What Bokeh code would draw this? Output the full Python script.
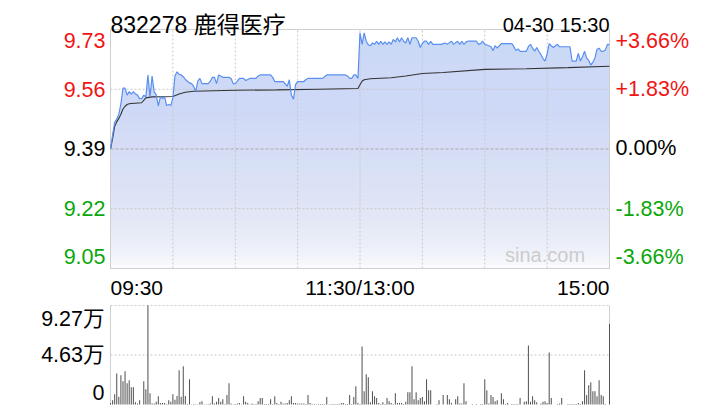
from bokeh.plotting import figure
from bokeh.models import Range1d, Label
from bokeh.embed import file_html
from bokeh.resources import INLINE

# ---------------- data ----------------
title_text = "832278 鹿得医疗"
stamp_text = "04-30 15:30"
prev_close = 9.39

price = [
    9.390, 9.430, 9.467, 9.476, 9.490, 9.520, 9.565, 9.565, 9.545, 9.555,
    9.548, 9.555, 9.548, 9.545, 9.535, 9.535, 9.545, 9.540, 9.603, 9.540,
    9.600, 9.555, 9.545, 9.514, 9.540, 9.535, 9.540, 9.515, 9.518, 9.515,
    9.537, 9.600, 9.612, 9.605, 9.603, 9.598, 9.590, 9.585, 9.580, 9.578,
    9.570, 9.556, 9.585, 9.593, 9.578, 9.578, 9.578, 9.578, 9.585, 9.596,
    9.596, 9.578, 9.603, 9.600, 9.596, 9.596, 9.596, 9.596, 9.593, 9.578,
    9.578, 9.585, 9.593, 9.593, 9.593, 9.587, 9.590, 9.593, 9.593, 9.593,
    9.593, 9.600, 9.603, 9.603, 9.603, 9.603, 9.603, 9.603, 9.596, 9.584,
    9.584, 9.584, 9.584, 9.584, 9.578, 9.570, 9.589, 9.545, 9.533, 9.575,
    9.584, 9.584, 9.584, 9.584, 9.590, 9.593, 9.593, 9.593, 9.593, 9.593,
    9.593, 9.593, 9.593, 9.598, 9.603, 9.603, 9.603, 9.603, 9.603, 9.603,
    9.603, 9.603, 9.603, 9.603, 9.600, 9.593, 9.593, 9.603, 9.603, 9.593,
    9.724, 9.691, 9.724, 9.700, 9.690, 9.687, 9.695, 9.691, 9.700, 9.691,
    9.700, 9.691, 9.698, 9.691, 9.698, 9.691, 9.705, 9.698, 9.710, 9.698,
    9.710, 9.700, 9.695, 9.710, 9.691, 9.710, 9.710, 9.710, 9.700, 9.682,
    9.694, 9.700, 9.700, 9.691, 9.700, 9.691, 9.691, 9.691, 9.691, 9.691,
    9.693, 9.695, 9.691, 9.696, 9.700, 9.691, 9.696, 9.700, 9.691, 9.700,
    9.691, 9.698, 9.700, 9.700, 9.700, 9.700, 9.700, 9.691, 9.693, 9.700,
    9.691, 9.689, 9.687, 9.684, 9.673, 9.687, 9.680, 9.687, 9.693, 9.693,
    9.693, 9.693, 9.693, 9.693, 9.685, 9.673, 9.678, 9.671, 9.671, 9.671,
    9.671, 9.685, 9.691, 9.680, 9.671, 9.682, 9.671, 9.662, 9.650, 9.643,
    9.664, 9.693, 9.687, 9.682, 9.687, 9.691, 9.684, 9.684, 9.684, 9.684,
    9.684, 9.684, 9.643, 9.643, 9.643, 9.665, 9.643, 9.655, 9.671, 9.652,
    9.645, 9.631, 9.640, 9.652, 9.677, 9.680, 9.671, 9.671, 9.675, 9.691,
    9.690,
]

avg_minute = [0, 1, 2, 3, 4, 5, 6, 7, 8, 9, 10, 15, 17, 20, 30, 33, 36, 40, 60, 80,
              100, 119, 120, 121, 122, 125, 135, 142, 150, 160, 180, 200, 220, 240]
avg_price = [9.390, 9.420, 9.455, 9.468, 9.478, 9.490, 9.505, 9.513, 9.518, 9.520,
             9.521, 9.523, 9.537, 9.540, 9.541, 9.548, 9.553, 9.556, 9.559, 9.560,
             9.562, 9.564, 9.575, 9.585, 9.589, 9.592, 9.595, 9.600, 9.607, 9.610,
             9.619, 9.621, 9.624, 9.628]

volume = [
    1500, 4000, 9600, 29000, 7200, 27400, 21800, 31100, 19900, 22700,
    16200, 16200, 2200, 1000, 4000, 0, 21800, 14300, 92700, 10600,
    1000, 1000, 2600, 7800, 1500, 1500, 1500, 500, 4000, 2600,
    9600, 4400, 8000, 32000, 7200, 35800, 8000, 500, 23600, 300,
    500, 300, 300, 2000, 3000, 300, 300, 500, 1000, 7800,
    1000, 2500, 6000, 2500, 5000, 500, 9000, 19900, 1000, 300,
    500, 1000, 1500, 300, 7800, 2500, 1500, 300, 1000, 500,
    500, 3000, 6000, 6000, 500, 500, 500, 5000, 500, 7800,
    1500, 500, 2500, 1000, 1000, 1500, 4000, 7800, 1500, 1500,
    1000, 1000, 1000, 1000, 500, 9000, 1500, 500, 500, 300,
    500, 500, 500, 500, 7000, 300, 500, 500, 500, 500,
    500, 1500, 1500, 500, 500, 9000, 500, 7000, 17100, 1500,
    500, 54400, 12400, 28300, 25500, 2200, 12400, 7800, 6000, 1500,
    500, 2200, 500, 6000, 3000, 1500, 500, 10600, 1500, 1500,
    1500, 500, 2500, 11500, 11500, 35800, 5000, 11500, 4000, 6000,
    7000, 3000, 23600, 13400, 13400, 0, 0, 500, 4000, 0,
    9000, 0, 9000, 5000, 1500, 0, 5000, 7800, 1000, 1000,
    19900, 3000, 0, 0, 500, 0, 500, 0, 500, 500,
    23600, 13400, 1000, 9000, 7000, 3000, 4000, 0, 10600, 5000,
    500, 1500, 0, 500, 500, 500, 500, 6000, 0, 2500,
    3000, 55300, 2500, 7800, 4000, 2000, 0, 1000, 2500, 3000,
    1500, 48800, 6000, 0, 0, 500, 1000, 6000, 0, 0,
    500, 500, 500, 500, 500, 1500, 500, 3000, 32000, 9000,
    18000, 20800, 12400, 12400, 7800, 22700, 9000, 7800, 500, 0,
    75600,
]

level_pct = [3.66, 1.83, 0.0, -1.83, -3.66]
left_labels = ["9.73", "9.56", "9.39", "9.22", "9.05"]
right_labels = ["+3.66%", "+1.83%", "0.00%", "-1.83%", "-3.66%"]
time_ticks = [0, 120, 240]
time_labels = ["09:30", "11:30/13:00", "15:00"]
grid_minutes = [30, 60, 90, 120, 150, 180, 210]
vol_ticks = [92700, 46300, 0]
vol_labels = ["9.27万", "4.63万", "0"]

# ---------------- layout (pixels on the 720x420 canvas) ----------------
W, H = 720, 420
FL, FR = 110, 609          # plot frame left/right
PT, PB = 29, 268           # price panel top/bottom
VT, VB = 305, 404          # volume panel top/bottom

FONT = "'Liberation Sans', 'Noto Sans CJK SC', sans-serif"
LABEL_SIZE = "21.5px"
RED = "#f01414"
GREEN = "#0aa70a"
label_colors = [RED, RED, "#000000", GREEN, GREEN]
label_dy = [11, 0, -1, 0, -12]      # screen px downward shift of tick labels
GRID = "#c8c8c8"

minutes = list(range(len(price)))
ymin = prev_close * (1 + level_pct[-1] / 100)
ymax = prev_close * (1 + level_pct[0] / 100)

# x: minutes mapped so minute 0 -> FL and minute 240 -> FR
xpp = 240 / (FR - FL)
x0 = 0 - FL * xpp
x1 = 240 + (W - FR) * xpp
# price y mapped so ymax -> PT and ymin -> PB
ypp = (ymax - ymin) / (PB - PT)
y_start = ymin - (H - PB) * ypp
y_end = ymax + PT * ypp
# volume y mapped so vol_ticks[0] -> VT and 0 -> VB
vpp = vol_ticks[0] / (VB - VT)
v_start = 0 - (H - VB) * vpp
v_end = vol_ticks[0] + VT * vpp

p = figure(width=W, height=H, x_range=Range1d(x0, x1), y_range=Range1d(y_start, y_end),
           min_border=0, min_border_left=0, min_border_right=0, min_border_top=0,
           min_border_bottom=0, toolbar_location=None, output_backend="svg",
           x_axis_location=None, y_axis_location=None)
p.extra_y_ranges = {"vol": Range1d(v_start, v_end)}
p.grid.visible = False
p.outline_line_color = None
p.background_fill_color = "white"
p.border_fill_color = "white"

# price area fill with a vertical gradient (overlapping white veils, no seams)
p.varea(x=minutes, y1=[ymin] * len(minutes), y2=price, fill_color="#c8d9f6", fill_alpha=1.0)
n = 60
step = (ymax - ymin) / n
remain = [(j + 0.5) / n for j in range(n)] + [1.0]
veil_alpha = [1 - remain[j] / remain[j + 1] for j in range(n)]
veil_top = [ymin + (j + 1) * step for j in range(n)]
p.quad(left=0, right=240, bottom=ymin, top=veil_top, fill_color="white",
       fill_alpha=veil_alpha, line_color=None)

# price grid
p.segment(x0=grid_minutes, x1=grid_minutes, y0=[ymin] * len(grid_minutes),
          y1=[ymax] * len(grid_minutes), line_color=GRID, line_dash="2 2", line_width=1)
side_levels = [prev_close * (1 + pct / 100) for pct in level_pct[1:-1] if pct != 0.0]
p.segment(x0=0, x1=240, y0=side_levels, y1=side_levels, line_color=GRID,
          line_dash="2 2", line_width=1)
p.segment(x0=0, x1=240, y0=prev_close, y1=prev_close, line_color="#a8a8a8",
          line_dash="3 2", line_width=1)
# price frame
p.quad(left=0, right=240, bottom=ymin, top=ymax, fill_color=None,
       line_color="#cfcfcf", line_width=1)

p.line(avg_minute, avg_price, line_color="#333333", line_width=1.1)
p.line(minutes, price, line_color="#5a8ff0", line_width=1.2)

# price tick labels
for pct, lt, rt, c, dy in zip(level_pct, left_labels, right_labels, label_colors, label_dy):
    lvl = prev_close * (1 + pct / 100)
    p.add_layout(Label(x=0, y=lvl, text=lt, x_offset=-5, y_offset=-dy,
                       text_align="right", text_baseline="middle",
                       text_color=c, text_font=FONT, text_font_size=LABEL_SIZE))
    p.add_layout(Label(x=240, y=lvl, text=rt, x_offset=6, y_offset=-dy,
                       text_align="left", text_baseline="middle",
                       text_color=c, text_font=FONT, text_font_size=LABEL_SIZE))

aligns = ["left", "center", "right"]
for tm, tl, al in zip(time_ticks, time_labels, aligns):
    p.add_layout(Label(x=tm, y=ymin, text=tl, y_offset=-19, text_align=al,
                       text_baseline="middle", text_color="#000000",
                       text_font=FONT, text_font_size="21px"))

p.add_layout(Label(x=0, y=ymax, text=title_text, y_offset=5, text_align="left",
                   text_baseline="alphabetic", text_color="#000000",
                   text_font=FONT, text_font_size="23px"))
p.add_layout(Label(x=240, y=ymax, text=stamp_text, y_offset=5, text_align="right",
                   text_baseline="alphabetic", text_color="#000000",
                   text_font=FONT, text_font_size="20px"))
p.add_layout(Label(x=209, y=ymin, text="sina.com", y_offset=14, text_align="center",
                   text_baseline="middle", text_color="#cccccc",
                   text_font=FONT, text_font_size="20px"))

# ---------------- volume panel ----------------
p.segment(x0=0, x1=240, y0=vol_ticks[:2], y1=vol_ticks[:2], line_color=GRID,
          line_dash="2 2", line_width=1, y_range_name="vol")
p.segment(x0=[0, 240], x1=[0, 240], y0=0, y1=vol_ticks[0], line_color="#cfcfcf",
          line_width=1, y_range_name="vol")
p.vbar(x=minutes, top=volume, width=0.5, fill_color="#555555", line_color=None,
       y_range_name="vol")

vol_dy = [13, 0, -12]
for vt, vl, dy in zip(vol_ticks, vol_labels, vol_dy):
    p.add_layout(Label(x=0, y=vt, text=vl, x_offset=-6, y_offset=-dy,
                       text_align="right", text_baseline="middle", y_range_name="vol",
                       text_color="#000000", text_font=FONT, text_font_size=LABEL_SIZE))

open("out.html", "w").write(file_html(p, INLINE))
